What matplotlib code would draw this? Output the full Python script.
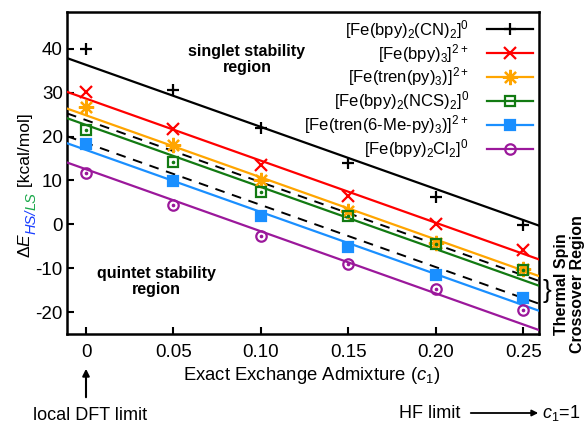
import matplotlib
matplotlib.use('Agg')
import matplotlib.pyplot as plt
import numpy as np

plt.rcParams['font.family'] = ['Liberation Sans', 'DejaVu Sans']
plt.rcParams['mathtext.fontset'] = 'custom'
plt.rcParams['mathtext.rm'] = 'Liberation Sans'
plt.rcParams['mathtext.it'] = 'Liberation Sans:italic'
plt.rcParams['mathtext.bf'] = 'Liberation Sans:bold'
plt.rcParams['axes.unicode_minus'] = False

# Datos
c1 = [0.0, 0.05, 0.10, 0.15, 0.20, 0.25]

e_cn = [40.0, 30.6, 22.0, 13.9, 6.3, -0.2]
e_bpy3 = [30.1, 21.7, 13.5, 6.5, 0.0, -5.9]
e_trenpy = [26.8, 18.1, 10.2, 3.1, -4.2, -10.2]
e_ncs = [21.5, 14.3, 7.3, 1.8, -4.5, -10.3]
e_6me = [18.3, 9.9, 1.9, -5.1, -11.6, -16.9]
e_cl2 = [11.8, 4.5, -2.7, -9.1, -14.8, -19.6]

# ajustes lineales (ordenada en c1=0 y pendiente comun)
ordenadas = [36.35, 28.65, 24.85, 22.65, 16.95, 12.55]
pendiente = -141.5
# limites de la region de transicion termica (lineas discontinuas)
ordenadas_sco = [23.75, 18.55]

etiquetas = [r'[Fe(bpy)$_2$(CN)$_2$]$^0$',
             r'[Fe(bpy)$_3$]$^{2+}$',
             r'[Fe(tren(py)$_3$)]$^{2+}$',
             r'[Fe(bpy)$_2$(NCS)$_2$]$^0$',
             r'[Fe(tren(6-Me-py)$_3$)]$^{2+}$',
             r'[Fe(bpy)$_2$Cl$_2$]$^0$']
cores = ['black', '#ff0000', '#ffa500', '#127a12', '#1a8fff', '#9b189b']
marcadores = ['+', 'x', (8, 2, 0), 's', 's', 'o']
tamanhos = [9, 9, 11, 7.5, 7.5, 7.5]
preenchido = [True, True, True, False, True, False]

xticks = [0, 0.05, 0.10, 0.15, 0.20, 0.25]
xtick_labels = ['0', '0.05', '0.10', '0.15', '0.20', '0.25']
yticks = [-20, -10, 0, 10, 20, 30, 40]

series = [e_cn, e_bpy3, e_trenpy, e_ncs, e_6me, e_cl2]

fig = plt.figure(figsize=(5.85, 4.25), dpi=100)
ax = fig.add_axes([0.1145, 0.2141, 0.8069, 0.7577])

xmin, xmax = -0.0109, 0.259
ax.set_xlim(xmin, xmax)
ax.set_ylim(-25, 48.4)
xx = np.array([xmin, xmax])

for b in ordenadas_sco:
    ax.plot(xx, b + pendiente*xx, color='black', lw=1.4, ls=(0, (5, 4)), zorder=2)

for y, b, cor, m, ms, cheio, lab in zip(series, ordenadas, cores, marcadores, tamanhos,
                                        preenchido, etiquetas):
    ax.plot(xx, b + pendiente*xx, color=cor, lw=1.6, zorder=3)
    ax.plot(c1, y, ls='none', marker=m, ms=ms, mew=1.6, color=cor,
            mfc=cor if cheio else 'none', zorder=4)
    if not cheio:
        ax.plot(c1, y, ls='none', marker='o', ms=1.6, color=cor, zorder=4)
    # entrada da legenda
    ax.plot([], [], color=cor, lw=1.6, marker=m, ms=ms, mew=1.6,
            mfc=cor if cheio else 'none', label=lab)

ax.set_xticks(xticks)
ax.set_xticklabels(xtick_labels)
ax.set_yticks(yticks)
ax.tick_params(direction='in', length=5, width=1.5, labelsize=13.5,
               top=False, right=False)
ax.tick_params(axis='x', pad=7)
ax.tick_params(axis='y', pad=3)
for s in ax.spines.values():
    s.set_linewidth(1.8)

ax.set_xlabel(r'Exact Exchange Admixture ($c_1$)', fontsize=13.3)
ax.xaxis.set_label_coords(0.519, -0.097)

leg = ax.legend(loc='upper right', markerfirst=False, frameon=False,
                fontsize=12, handlelength=2.76, handletextpad=1.08,
                labelspacing=0.06, borderaxespad=0.0, borderpad=0.15,
                bbox_to_anchor=(0.992, 0.99))

# textos das regioes
ax.text(0.092, 37.6, 'singlet stability\nregion', ha='center', va='center',
        fontsize=11.5, fontweight='bold', linespacing=1.1)
ax.text(0.04, -13.0, 'quintet stability\nregion', ha='center', va='center',
        fontsize=11.5, fontweight='bold', linespacing=1.1)

# rotulo y com cores
t1 = fig.text(33/585, 1-258/425, r'$\Delta E$', rotation=90, ha='right', va='bottom',
              fontsize=12.5)
t2 = ax.annotate('HS/', xy=(1, 1), xycoords=t1, xytext=(4, -1), textcoords='offset points',
                 rotation=90, ha='right', va='bottom', fontsize=10.5, color='#1a3fff',
                 style='italic')
t3 = ax.annotate('LS', xy=(1, 1), xycoords=t2, rotation=90, ha='right', va='bottom',
                 fontsize=10.5, color='#1aa84a', style='italic')
t4 = ax.annotate(' [kcal/mol]', xy=(1, 1), xycoords=(t1, t3), rotation=90,
                 ha='right', va='bottom', fontsize=12.5)

# região de crossover térmico
fig.text(547/585, 1-291/425, '}', ha='center', va='center', fontsize=19)
fig.text(569.5/585, 1-284/425, 'Thermal Spin\nCrossover Region', rotation=90,
         ha='center', va='center', fontsize=11.5, fontweight='bold', linespacing=1.05)

# limites DFT / HF
fig.text(90/585, 1-416/425, 'local DFT limit', ha='center', va='center', fontsize=13)
fig.add_artist(matplotlib.patches.FancyArrowPatch((86/585, 1-400/425), (86/585, 1-366/425),
               transform=fig.transFigure, arrowstyle='-|>', mutation_scale=10,
               color='black', lw=1.5))
fig.text(430/585, 1-413/425, 'HF limit', ha='center', va='center', fontsize=13)
fig.add_artist(matplotlib.patches.FancyArrowPatch((468/585, 1-413/425), (541/585, 1-413/425),
               transform=fig.transFigure, arrowstyle='-|>', mutation_scale=9,
               color='black', lw=1.3))
fig.text(542/585, 1-413/425, r'$c_1$=1', ha='left', va='center', fontsize=13)

fig.savefig('out.png', dpi=100)
